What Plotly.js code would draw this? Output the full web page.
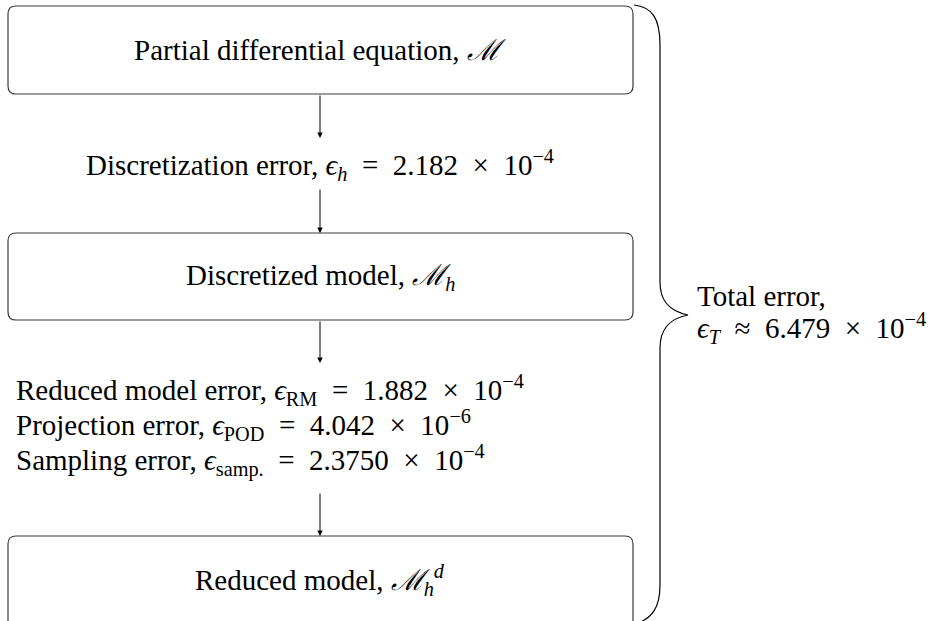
<!DOCTYPE html>
<html>
<head>
<meta charset="utf-8">
<script src="https://cdn.plot.ly/plotly-3.0.1.min.js"></script>
<style>html,body{margin:0;padding:0;background:#fff;}#chart{width:931px;height:621px;}</style>
</head>
<body>
<div id="chart"></div>
<script>
// ---- content (data) ----
const nodeLabels = [
  'Partial differential equation, <i>ℳ</i>',
  'Discretized model, <i>ℳ</i><sub><i>h</i></sub>',
  'Reduced model, <i>ℳ</i><sub><i>h</i></sub><sup><i>d</i></sup>'
];
const errorNames = ['Discretization error', 'Reduced model error', 'Projection error', 'Sampling error'];
const errorSymbols = ['<i>h</i>', 'RM', 'POD', 'samp.'];
const errorMantissas = ['2.182', '1.882', '4.042', '2.3750'];
const errorExponents = [-4, -4, -6, -4];
const totalName = 'Total error,';
const totalSymbol = '<i>T</i>';
const totalMantissa = '6.479';
const totalExponent = -4;

// ---- layout ----
const W = 931, H = 621;
const FONT = 'Liberation Serif, Times New Roman, serif';
const FS = 29;
const cx = 320;
const boxX0 = 8, boxX1 = 633, rad = 8;
const boxes = [[6, 94], [233, 320], [536, 628]];
const arrows = [[94, 138], [188, 233], [320, 363], [492, 536]];
const SP = '\u2002';   // wider math spacing around relations/operators

function mathVal(sym, rel, mant, exp) {
  return '<i>ϵ</i><sub>' + sym + '</sub>' + SP + rel + SP + mant + SP + '×' + SP +
    '10<sup>−' + Math.abs(exp) + '</sup>';
}
function errText(i) {
  return errorNames[i] + ', ' + mathVal(errorSymbols[i], '=', errorMantissas[i], errorExponents[i]);
}

function roundRect(x0, y0, x1, y1, r) {
  return `M ${x0 + r},${y0} L ${x1 - r},${y0} Q ${x1},${y0} ${x1},${y0 + r} L ${x1},${y1 - r} Q ${x1},${y1} ${x1 - r},${y1} L ${x0 + r},${y1} Q ${x0},${y1} ${x0},${y1 - r} L ${x0},${y0 + r} Q ${x0},${y0} ${x0 + r},${y0} Z`;
}

const shapes = boxes.map(b => ({
  type: 'path', xref: 'x', yref: 'y', path: roundRect(boxX0, b[0], boxX1, b[1], rad),
  line: {color: '#3a3a3a', width: 1.2}, fillcolor: 'rgba(0,0,0,0)'
}));
// brace
shapes.push({
  type: 'path', xref: 'x', yref: 'y',
  path: 'M 634,5 C 652,7 660,18 660,45 L 660,282 C 660,300 668,311 688,315 C 668,319 660,330 660,348 L 660,585 C 660,608 652,618 636,624',
  line: {color: '#000', width: 1.2}
});

const annotations = [];
const txtFont = {family: FONT, size: FS, color: '#000'};
// node labels
const nodeY = [50, 277, 580];
nodeLabels.forEach((t, i) => annotations.push({
  x: cx, y: nodeY[i], xref: 'x', yref: 'y', text: t, showarrow: false,
  xanchor: 'center', yanchor: 'middle', font: txtFont
}));
// arrows
arrows.forEach(a => annotations.push({
  x: cx, y: a[1], ax: cx, ay: a[0], xref: 'x', yref: 'y', axref: 'x', ayref: 'y',
  text: '', showarrow: true, arrowhead: 2, arrowsize: 1.1, arrowwidth: 1, arrowcolor: '#000'
}));
// discretization error
annotations.push({
  x: cx, y: 165, xref: 'x', yref: 'y', text: errText(0), showarrow: false,
  xanchor: 'center', yanchor: 'middle', font: txtFont
});
// reduced model errors
const lineY = [390, 425, 460];
for (let i = 1; i < 4; i++) {
  annotations.push({
    x: 14, y: lineY[i - 1], xref: 'x', yref: 'y', text: errText(i), showarrow: false,
    xanchor: 'left', yanchor: 'middle', font: txtFont
  });
}
// total
annotations.push({
  x: 695, y: 296, xref: 'x', yref: 'y', text: totalName, showarrow: false,
  xanchor: 'left', yanchor: 'middle', font: txtFont
});
annotations.push({
  x: 695, y: 328, xref: 'x', yref: 'y',
  text: mathVal(totalSymbol, '≈', totalMantissa, totalExponent),
  showarrow: false, xanchor: 'left', yanchor: 'middle', font: txtFont
});

Plotly.newPlot('chart', [], {
  width: W, height: H,
  margin: {l: 0, r: 0, t: 0, b: 0},
  paper_bgcolor: '#fff', plot_bgcolor: '#fff',
  xaxis: {range: [0, W], visible: false, fixedrange: true},
  yaxis: {range: [H, 0], visible: false, fixedrange: true},
  showlegend: false,
  shapes: shapes, annotations: annotations
}, {staticPlot: true, displayModeBar: false});
</script>
</body>
</html>
